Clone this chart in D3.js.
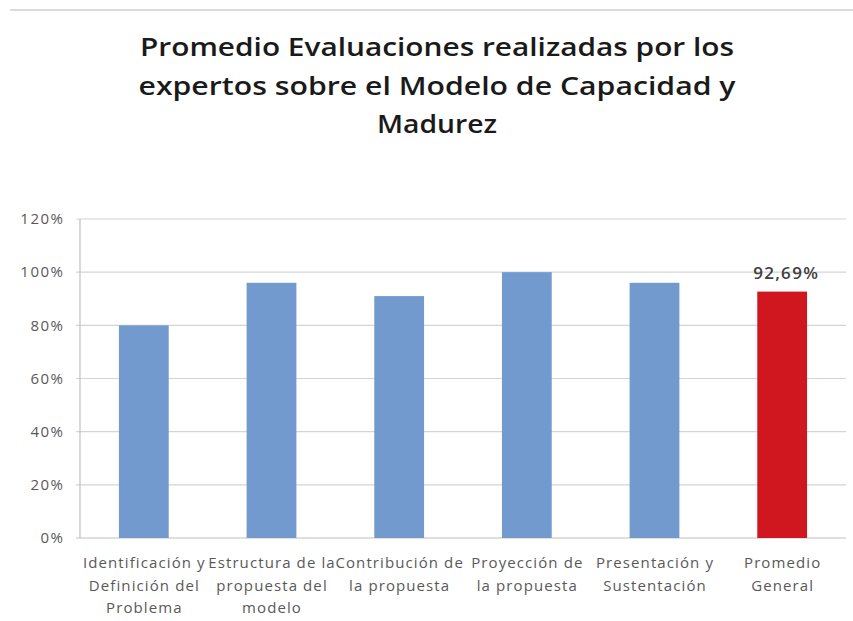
<!DOCTYPE html>
<html><head><meta charset="utf-8">
<script src="https://cdn.jsdelivr.net/npm/d3@7"></script>
<style>body{margin:0;background:#fff;}svg{display:block;}</style>
</head><body>
<script>
const categories = [
  ["Identificación y","Definición del","Problema"],
  ["Estructura de la","propuesta del","modelo"],
  ["Contribución de","la propuesta"],
  ["Proyección de","la propuesta"],
  ["Presentación y","Sustentación"],
  ["Promedio","General"]
];
const values = [80, 96, 91, 100, 96, 92.69];
const barColors = ["#729acf","#729acf","#729acf","#729acf","#729acf","#d0161e"];
const yTicks = [0, 20, 40, 60, 80, 100, 120];
const titleLines = ["Promedio Evaluaciones realizadas por los","expertos sobre el Modelo de Capacidad y","Madurez"];
const titleWidths = [594, 597, 120];
const labelText = "92,69%";

const W = 853, H = 621;
const svg = d3.select("body").append("svg").attr("width", W).attr("height", H);

svg.append("line").attr("x1", 10).attr("x2", W).attr("y1", 10).attr("y2", 10)
  .attr("stroke", "#dcdcdc").attr("stroke-width", 2);

const title = svg.append("text").attr("text-anchor", "middle")
  .attr("font-family", "Open Sans, sans-serif").attr("font-weight", 600)
  .attr("font-size", 25).attr("fill", "#1a1a1a");
titleLines.forEach((t, i) => title.append("tspan").attr("x", 437).attr("y", 56 + i * 38.5)
  .attr("textLength", titleWidths[i]).attr("lengthAdjust", "spacingAndGlyphs").text(t));

const x0 = 80, x1 = 846, yBottom = 538, yTop = 219;
const x = d3.scaleBand().domain(d3.range(categories.length)).range([x0, x1])
  .paddingInner(0.61).paddingOuter(0.305);
const y = d3.scaleLinear().domain([0, 120]).range([yBottom, yTop]);

const grid = svg.append("g");
yTicks.forEach(t => {
  grid.append("line").attr("x1", x0 - 4).attr("x2", x1).attr("y1", y(t)).attr("y2", y(t))
    .attr("stroke", t === 0 ? "#bfbfbf" : "#d4d4d4").attr("stroke-width", 1.2);
});
svg.append("line").attr("x1", x0).attr("x2", x0).attr("y1", yTop).attr("y2", yBottom)
  .attr("stroke", "#bfbfbf").attr("stroke-width", 1.2);

const yAxis = d3.axisLeft(y).tickValues(yTicks).tickFormat(d => d + "%").tickSize(0).tickPadding(0);
const ga = svg.append("g").attr("transform", `translate(${x0 - 15.5},0)`).call(yAxis);
ga.select(".domain").remove();
ga.selectAll("text").attr("font-family", "Open Sans, sans-serif").attr("font-size", 15)
  .attr("letter-spacing", 1.5).attr("fill", "#595959");

svg.append("g").selectAll("rect").data(values).join("rect")
  .attr("x", (d, i) => x(i)).attr("width", x.bandwidth())
  .attr("y", d => y(d)).attr("height", d => yBottom - y(d))
  .attr("fill", (d, i) => barColors[i]);

const xl = svg.append("g");
categories.forEach((lines, i) => {
  const t = xl.append("text").attr("text-anchor", "middle")
    .attr("font-family", "Open Sans, sans-serif").attr("font-size", 15)
    .attr("letter-spacing", 1.1).attr("fill", "#595959");
  lines.forEach((l, j) => t.append("tspan").attr("x", x(i) + x.bandwidth() / 2 + 0.5).attr("y", 568 + j * 22.5).text(l));
});

svg.append("text").attr("x", x(5) + x.bandwidth() / 2 + 4).attr("y", 279)
  .attr("text-anchor", "middle").attr("font-family", "Open Sans, sans-serif")
  .attr("font-weight", 600).attr("font-size", 17).attr("letter-spacing", 1.3)
  .attr("fill", "#404040").text(labelText);
</script>
</body></html>
